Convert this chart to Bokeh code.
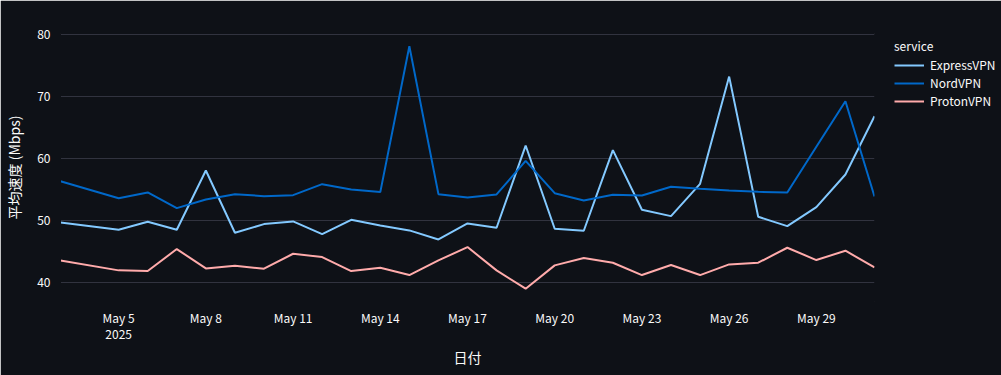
import pandas as pd
from bokeh.plotting import figure
from bokeh.models import (FixedTicker, DatetimeTickFormatter, Legend, LegendItem, Range1d)
from bokeh.embed import file_html
from bokeh.resources import INLINE

dates = ["2025-05-03", "2025-05-05", "2025-05-06", "2025-05-07", "2025-05-08",
         "2025-05-09", "2025-05-10", "2025-05-11", "2025-05-12", "2025-05-13",
         "2025-05-14", "2025-05-15", "2025-05-16", "2025-05-17", "2025-05-18",
         "2025-05-19", "2025-05-20", "2025-05-21", "2025-05-22", "2025-05-23",
         "2025-05-24", "2025-05-25", "2025-05-26", "2025-05-27", "2025-05-28",
         "2025-05-29", "2025-05-30", "2025-05-31"]
express = [49.65, 48.46, 49.76, 48.46, 58.06, 47.98, 49.38, 49.81, 47.76,
           50.08, 49.16, 48.36, 46.9, 49.49, 48.79, 62.1, 48.63, 48.30, 61.35,
           51.70, 50.67, 55.9, 73.26, 50.57, 49.06, 52.13, 57.41, 66.85]
nord = [56.33, 53.58, 54.50, 51.97, 53.37, 54.23, 53.91, 54.07, 55.85,
        54.99, 54.56, 78.17, 54.23, 53.69, 54.18, 59.62, 54.39, 53.21, 54.12,
        54.02, 55.42, 55.1, 54.82, 54.6, 54.5, 61.9, 69.27, 53.85]
proton = [43.5, 41.89, 41.78, 45.34, 42.2, 42.64, 42.16, 44.58, 44.04,
          41.78, 42.32, 41.13, 43.5, 45.66, 41.89, 38.92, 42.7, 43.88, 43.13,
          41.13, 42.75, 41.13, 42.86, 43.13, 45.55, 43.56, 45.07, 42.37]
services = ["ExpressVPN", "NordVPN", "ProtonVPN"]
colors = ["#83c9ff", "#0068c9", "#ffabab"]
x_ticks = ["2025-05-05", "2025-05-08", "2025-05-11", "2025-05-14", "2025-05-17",
           "2025-05-20", "2025-05-23", "2025-05-26", "2025-05-29"]
first_tick_label = "May 5\n2025"
y_ticks = [40, 50, 60, 70, 80]

x = pd.to_datetime(dates)
BG = "#0e1117"
TXT = "#fafafa"
CJK = "Noto Sans CJK JP"

p = figure(x_axis_type="datetime", frame_width=814, frame_height=268,
           min_border_left=60, min_border_top=33, min_border_bottom=74,
           min_border_right=0,
           x_range=Range1d(x[0], x[-1]), y_range=Range1d(36.85, 80.24),
           output_backend="svg", toolbar_location=None,
           background_fill_color=BG, border_fill_color=BG,
           outline_line_color=BG)

p.xgrid.grid_line_color = None
p.ygrid.grid_line_color = "#31333f"
p.ygrid.grid_line_width = 1

renderers = []
for name, vals, c in zip(services, [express, nord, proton], colors):
    r = p.line(x, vals, line_color=c, line_width=2)
    renderers.append((name, r))

tick_ms = [float(pd.Timestamp(t).value // 10**6) for t in x_ticks]
p.xaxis.ticker = FixedTicker(ticks=tick_ms)
p.xaxis.formatter = DatetimeTickFormatter(days="%b %-d", months="%b %-d")
p.xaxis.major_label_overrides = {tick_ms[0]: first_tick_label}
p.yaxis.ticker = FixedTicker(ticks=y_ticks)

for ax in list(p.xaxis) + list(p.yaxis):
    ax.axis_line_color = BG
    ax.major_tick_line_color = None
    ax.minor_tick_line_color = None
    ax.major_tick_out = 0
    ax.major_tick_in = 0
    ax.minor_tick_out = 0
    ax.minor_tick_in = 0
    ax.major_label_text_color = TXT
    ax.major_label_text_font = CJK
    ax.major_label_text_font_size = "12px"
    ax.major_label_text_line_height = 0.95
    ax.axis_label_text_color = TXT
    ax.axis_label_text_font = CJK
    ax.axis_label_text_font_size = "14px"
    ax.axis_label_text_font_style = "normal"

p.xaxis.axis_label = "日付"
p.yaxis.axis_label = "平均速度 (Mbps)"
p.xaxis.major_label_standoff = 7
p.yaxis.major_label_standoff = 10
p.xaxis.axis_label_standoff = 2
p.yaxis.axis_label_standoff = 10

legend = Legend(items=[LegendItem(label=n, renderers=[r]) for n, r in renderers],
                title="service", location=(20, 192),
                margin=0, padding=4,
                background_fill_alpha=0, border_line_color=None,
                glyph_width=30, glyph_height=16, label_height=16,
                label_standoff=6, spacing=1, title_standoff=2,
                label_text_color=TXT, label_text_font=CJK, label_text_font_size="12px",
                title_text_color=TXT, title_text_font=CJK, title_text_font_size="12px",
                title_text_font_style="normal")
p.add_layout(legend, "right")

open("out.html", "w").write(file_html(p, INLINE))
